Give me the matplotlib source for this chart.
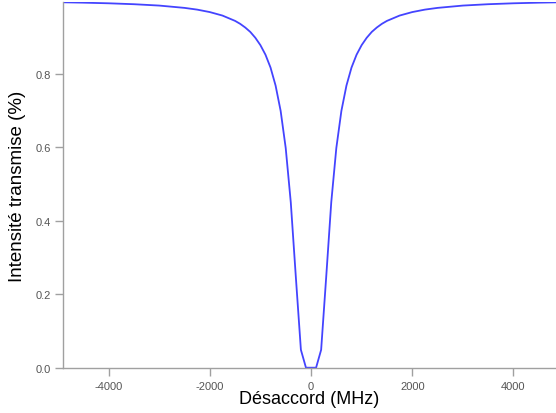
import matplotlib
matplotlib.use("Agg")
import matplotlib.pyplot as plt

detuning = [-4900, -4500, -4000, -3500, -3000, -2500, -2250, -2000, -1750,
            -1500, -1400, -1300, -1200, -1100, -1000, -900, -800, -700, -600,
            -500, -400, -300, -200, -100, 0, 100, 200, 300, 400, 500, 600,
            700, 800, 900, 1000, 1100, 1200, 1300, 1400, 1500, 1750, 2000,
            2250, 2500, 3000, 3500, 4000, 4500, 4900]
transmission = [0.9946, 0.9936, 0.9919, 0.9894, 0.9857, 0.9794, 0.9747, 0.968,
                0.9585, 0.944, 0.936, 0.926, 0.914, 0.898, 0.878, 0.852, 0.817,
                0.768, 0.699, 0.598, 0.4505, 0.247, 0.0487, 0.0, 0.0, 0.0,
                0.0487, 0.247, 0.4505, 0.598, 0.699, 0.768, 0.817, 0.852, 0.878,
                0.898, 0.914, 0.926, 0.936, 0.944, 0.9585, 0.968, 0.9747, 0.9794,
                0.9857, 0.9894, 0.9919, 0.9936, 0.9946]
xticks = [-4000, -2000, 0, 2000, 4000]
yticks = [0.0, 0.2, 0.4, 0.6, 0.8]

plt.rcParams['font.family'] = ['Liberation Sans', 'DejaVu Sans']

fig = plt.figure(figsize=(5.56, 4.14), dpi=100)
ax = fig.add_axes([63 / 556, (414 - 368.7) / 414, 1 - 63 / 556, (368.7 - 3.3) / 414])
ax.plot(detuning, transmission, color='#4444ff', lw=1.3, clip_on=True)
ax.set_xlim(-4900, 4840)
ax.set_ylim(0, 0.9946)
ax.set_xticks(xticks)
ax.set_xticklabels([str(t) for t in xticks])
ax.set_yticks(yticks)
ax.set_yticklabels(['%.1f' % t for t in yticks])
for s in ['top', 'right']:
    ax.spines[s].set_visible(False)
for s in ['left', 'bottom']:
    ax.spines[s].set_color('#a0a0a0')
    ax.spines[s].set_linewidth(1.0)
ax.tick_params(axis='both', direction='out', length=6, width=1.0,
               color='#a0a0a0', labelcolor='#555555', labelsize=8)
ax.tick_params(axis='y', pad=2.5)
ax.tick_params(axis='x', pad=3.5)
ax.set_xlabel('Désaccord (MHz)', fontsize=13, labelpad=-1)
ax.set_ylabel('Intensité transmise (%)', fontsize=13.5, labelpad=7)
fig.savefig('out.png', dpi=100)
